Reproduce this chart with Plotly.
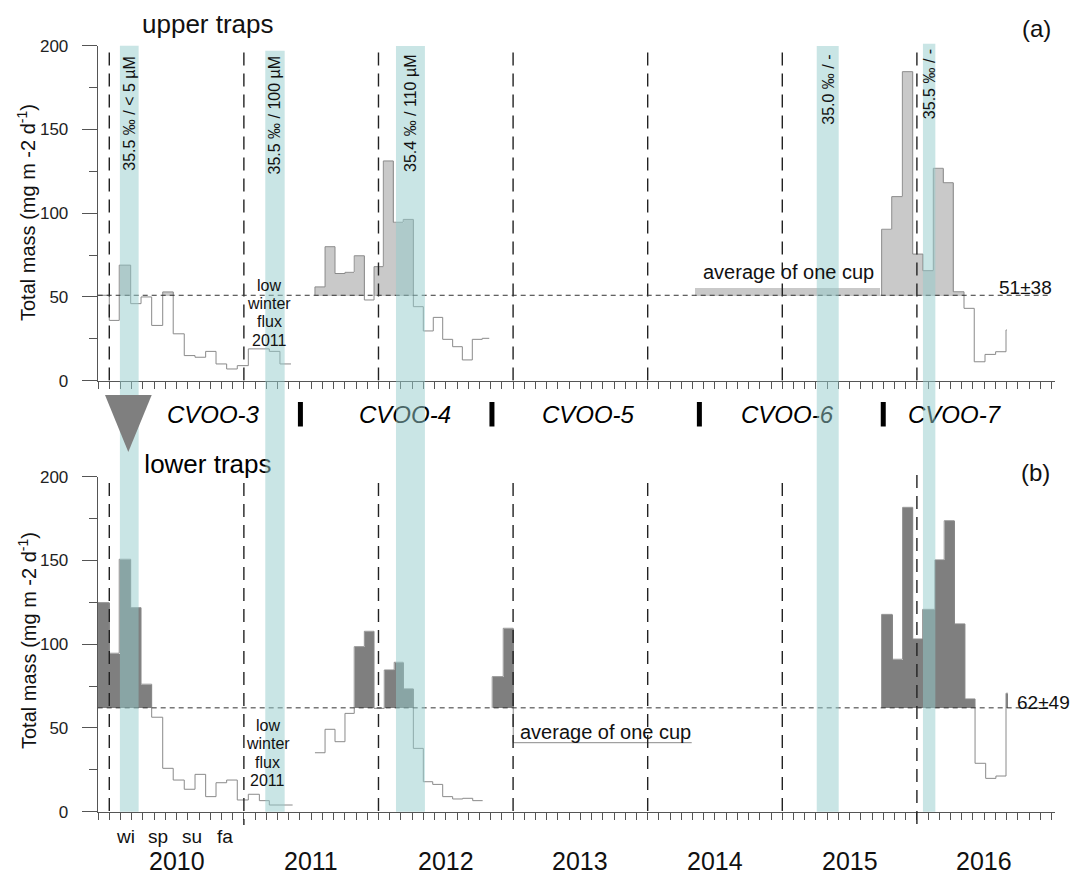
import numpy as np
import plotly.graph_objects as go

W, H = 1072, 877
FONT = "Liberation Sans, Arial, sans-serif"

# ------------------------------------------------------------------ data
years = [2010, 2011, 2012, 2013, 2014, 2015, 2016]
season_labels = ["wi", "sp", "su", "fa"]
season_pos = [2010.117, 2010.362, 2010.618, 2010.856]

upper_mean = 51
lower_mean = 62
upper_mean_label = "51±38"
lower_mean_label = "62±49"

# upper traps: cup edges (decimal year) and total mass flux (mg m-2 d-1)
up3_edges = [2009.914, 2010.000, 2010.074, 2010.159, 2010.236, 2010.315, 2010.397,
             2010.475, 2010.557, 2010.637, 2010.716, 2010.793, 2010.872, 2010.951,
             2011.033, 2011.120, 2011.189, 2011.268, 2011.350]
up3_vals = [51, 36, 69, 46, 50, 33, 53, 28, 15, 14, 17.5, 10, 7, 9, 19, 19, 17.5, 10]

up4_edges = [2011.528, 2011.603, 2011.677, 2011.751, 2011.820, 2011.895, 2011.967,
             2012.036, 2012.110, 2012.184, 2012.259, 2012.333, 2012.407, 2012.477,
             2012.551, 2012.623, 2012.697, 2012.771, 2012.823]
up4_vals = [56, 80, 64, 64.7, 74.6, 48.2, 68.1, 131.2, 94.6, 96.3, 44.2, 29.7, 37.8,
            24.7, 20.3, 12.4, 24.7, 25.3]

up6_avg_edges = [2014.346, 2015.721]
up6_avg_vals = [55.8]

up7_edges = [2015.738, 2015.813, 2015.892, 2015.969, 2016.045, 2016.122, 2016.196,
             2016.270, 2016.350, 2016.426, 2016.506, 2016.585, 2016.662, 2016.668]
up7_vals = [90.4, 109.9, 184.5, 75.6, 65.7, 126.8, 118.2, 53.1, 43.2, 11.3, 15.7, 17.3, 30.3]

# lower traps
lo3_edges = [2009.914, 2010.000, 2010.074, 2010.159, 2010.236, 2010.315, 2010.397,
             2010.475, 2010.557, 2010.637, 2010.716, 2010.793, 2010.872, 2010.951,
             2011.033, 2011.115, 2011.189, 2011.268, 2011.362]
lo3_vals = [124.8, 94.6, 150.7, 121.8, 76.1, 56.4, 25.9, 18.9, 13.4, 22.3, 9, 17.3,
            18.9, 7, 10.4, 6.6, 4, 4]

lo4_edges = [2011.528, 2011.603, 2011.677, 2011.751, 2011.820, 2011.895, 2011.967,
             2012.043, 2012.117, 2012.184, 2012.259, 2012.333, 2012.403, 2012.477,
             2012.551, 2012.626, 2012.700, 2012.774]
lo4_vals = [35.2, 49.2, 41.8, 58.7, 98.5, 107.7, 61.7, 84.6, 89.2, 73.3, 37.8, 17.9,
            16.3, 9, 7.6, 8, 6.6]

lo5_edges = [2012.845, 2012.927, 2013.001, 2014.327]
lo5_vals = [80.6, 109.5, 41.2]

lo7_edges = [2015.738, 2015.817, 2015.894, 2015.969, 2016.043, 2016.134, 2016.203,
             2016.278, 2016.357, 2016.432, 2016.511, 2016.587, 2016.662, 2016.677]
lo7_vals = [117.8, 91, 181.7, 103.1, 120.8, 150.3, 173.7, 112.1, 67.3, 28.9, 19.9,
            21.3, 70.7]

# events (teal bands) : start / end (decimal year) and labels
band_start = [2010.079, 2011.159, 2012.130, 2015.256, 2016.045]
band_end = [2010.218, 2011.303, 2012.345, 2015.419, 2016.137]
band_labels = ["35.5 ‰ / < 5 µM", "35.5 ‰ / 100 µM", "35.4 ‰ / 110 µM",
               "35.0 ‰ / -", "35.5 ‰ / -"]

# deployments
cvoo_names = ["CVOO-3", "CVOO-4", "CVOO-5", "CVOO-6", "CVOO-7"]
cvoo_pos = [2010.77, 2012.197, 2013.556, 2015.035, 2016.276]
cvoo_breaks = [2011.420, 2012.843, 2014.384, 2015.750]

winter_text = ["low", "winter", "flux", "2011"]
winter_pos = 2011.19

# ------------------------------------------------------------------ layout helpers
T0, T1 = 2009.914, 2017.026
XD = [97.7 / W, 1055 / W]
UP_DOM = [1 - 380.7 / H, 1 - 45.7 / H]
LO_DOM = [1 - 811.7 / H, 1 - 476.7 / H]


def py(p):
    return 1 - p / H


def px(p):
    return p / W


MID_DOM = [py(490), py(382)]


def mid_val(p):  # pixel -> helper axis value in the gap between panels
    return (py(p) - MID_DOM[0]) / (MID_DOM[1] - MID_DOM[0])


fig = go.Figure()

LINE_COL = "#8a8a8a"


def add_series(edges, vals, mean, xa, ya, fill, line=True):
    e = np.asarray(edges, float)
    v = np.asarray(vals, float)
    centers = (e[:-1] + e[1:]) / 2
    widths = np.diff(e)
    h = np.clip(v - mean, 0, None)
    fig.add_trace(go.Bar(x=centers, y=h, base=mean, width=widths,
                         marker=dict(color=fill, line=dict(width=0)),
                         xaxis=xa, yaxis=ya, hoverinfo="skip", showlegend=False))
    if line:
        xs = list(e)
        ys = list(v) + [v[-1]]
        if v[0] > mean:
            xs = [e[0]] + xs
            ys = [mean] + ys
        fig.add_trace(go.Scatter(x=xs, y=ys, mode="lines",
                                 line=dict(shape="hv", color=LINE_COL, width=1),
                                 xaxis=xa, yaxis=ya, hoverinfo="skip", showlegend=False))


UP_FILL = "#c9c9c9"
LO_FILL = "#7f7f7f"

add_series(up3_edges, up3_vals, upper_mean, "x", "y", UP_FILL)
add_series(up4_edges, up4_vals, upper_mean, "x", "y", UP_FILL)
add_series(up6_avg_edges, up6_avg_vals, upper_mean, "x", "y", UP_FILL, line=False)
add_series(up7_edges, up7_vals, upper_mean, "x", "y", UP_FILL)

add_series(lo3_edges, lo3_vals, lower_mean, "x2", "y2", LO_FILL)
add_series(lo4_edges, lo4_vals, lower_mean, "x2", "y2", LO_FILL)
add_series(lo5_edges, lo5_vals, lower_mean, "x2", "y2", LO_FILL)
add_series(lo7_edges, lo7_vals, lower_mean, "x2", "y2", LO_FILL)

# text lying under the translucent bands (drawn as traces on a hidden helper axis)
fig.add_trace(go.Scatter(x=cvoo_pos, y=[mid_val(416.6)] * len(cvoo_pos), mode="text",
                         text=cvoo_names, textposition="middle center",
                         textfont=dict(family=FONT, size=24, color="#000", style="italic"),
                         xaxis="x", yaxis="y3", cliponaxis=False, hoverinfo="skip",
                         showlegend=False))
fig.add_trace(go.Scatter(x=[2010.733], y=[mid_val(466)], mode="text",
                         text=["lower traps"], textposition="middle center",
                         textfont=dict(family=FONT, size=26, color="#000"),
                         xaxis="x", yaxis="y3", cliponaxis=False, hoverinfo="skip",
                         showlegend=False))

# ------------------------------------------------------------------ shapes
shapes = []
DASH_YR = dict(color="#222", width=1.4, dash="13px,8px")
for yr in years:
    shapes.append(dict(type="line", xref="x", yref="y", x0=yr, x1=yr, y0=196, y1=0,
                       line=DASH_YR, layer="above"))
    top = 475 if yr == 2016 else 483
    bot = 825 if yr in (2011, 2016) else 812
    shapes.append(dict(type="line", xref="x", yref="paper", x0=yr, x1=yr,
                       y0=py(top), y1=py(bot), line=DASH_YR, layer="above"))

MEAN_DASH = dict(color="#333", width=1, dash="5px,4px")
shapes.append(dict(type="line", xref="x", yref="y", x0=T0, x1=2017.0,
                   y0=upper_mean, y1=upper_mean, line=MEAN_DASH, layer="above"))
shapes.append(dict(type="line", xref="x2", yref="y2", x0=T0, x1=2017.0,
                   y0=lower_mean, y1=lower_mean, line=MEAN_DASH, layer="above"))

band_top_px = [45.7, 50.7, 46, 46, 43.7]
for s, e, tp in zip(band_start, band_end, band_top_px):
    shapes.append(dict(type="rect", xref="x", yref="paper", x0=s, x1=e,
                       y0=py(811.7), y1=py(tp), fillcolor="rgba(147,203,203,0.5)",
                       line=dict(width=0), layer="above"))

# triangle marker
shapes.append(dict(type="path", xref="paper", yref="paper",
                   path=f"M {px(105)},{py(395)} L {px(151.7)},{py(395)} L {px(128.3)},{py(452)} Z",
                   fillcolor="#7f7f7f", line=dict(width=0), layer="above"))

for b in cvoo_breaks:
    shapes.append(dict(type="line", xref="x", yref="paper", x0=b, x1=b,
                       y0=py(402), y1=py(426.5), line=dict(color="#000", width=5),
                       layer="above"))

# ------------------------------------------------------------------ annotations
ann = []


def A(text, x, y, xref="paper", yref="paper", size=16, xanchor="center",
      yanchor="middle", angle=0, style="normal", color="#111"):
    ann.append(dict(text=text, x=x, y=y, xref=xref, yref=yref, showarrow=False,
                    xanchor=xanchor, yanchor=yanchor, textangle=angle, borderpad=0,
                    font=dict(family=FONT, size=size, color=color, style=style)))


A("upper traps", px(207.5), py(24), size=26)
A("(a)", px(1052), py(28.5), size=24, xanchor="right")
A("(b)", px(1051), py(472), size=24, xanchor="right")

ytitle = "Total mass (mg m -2 d<sup>-1</sup>)"
A(ytitle, px(27), py(213), size=20, angle=-90)
A(ytitle, px(27), py(641), size=20, angle=-90)

label_top_px = [55, 54, 54, 54, 48]
for s, e, t, tp in zip(band_start, band_end, band_labels, label_top_px):
    A(t, (s + e) / 2, py(tp), xref="x", size=16, angle=-90, yanchor="top")

for i, t in enumerate(winter_text):
    A(t, winter_pos, py(285 + 18.4 * i), xref="x", size=16)
    A(t, winter_pos - 0.012, py(725 + 18.6 * i), xref="x", size=16)

A("average of one cup", px(702), py(272), size=20, xanchor="left")
A("average of one cup", px(519), py(732), size=20, xanchor="left")
A(upper_mean_label, px(1053), py(287.5), size=19, xanchor="right")
A(lower_mean_label, px(1071), py(702), size=19, xanchor="right")

for yr in years:
    A(str(yr), yr + 0.5, py(861), xref="x", size=25)
for s, p in zip(season_labels, season_pos):
    A(s, p, py(836.5), xref="x", size=19)

# ------------------------------------------------------------------ axes
month_ticks = 2009 + 11 / 12 + np.arange(0, 86) / 12
AX = "#555"
xcommon = dict(domain=XD, range=[T0, T1], tickmode="array", tickvals=month_ticks,
               ticks="outside", ticklen=7, tickwidth=1, tickcolor=AX,
               showticklabels=False, showline=True, linecolor=AX, linewidth=1,
               showgrid=False, zeroline=False, automargin=False)
ycommon = dict(range=[0, 200], tickmode="array", tickvals=[0, 50, 100, 150, 200],
               ticks="outside", ticklen=15, tickwidth=1, tickcolor=AX,
               minor=dict(tickmode="array", tickvals=[25, 75, 125, 175],
                          ticks="outside", ticklen=8, tickcolor=AX, tickwidth=1),
               showline=True, linecolor=AX, linewidth=1, showgrid=False,
               zeroline=False, tickfont=dict(family=FONT, size=17, color="#222"),
               ticklabelstandoff=10, automargin=False)

fig.update_layout(
    width=W, height=H, margin=dict(l=0, r=0, t=0, b=0, pad=0), autosize=False,
    paper_bgcolor="white", plot_bgcolor="rgba(0,0,0,0)",
    barmode="overlay", bargap=0, showlegend=False,
    xaxis=dict(anchor="y", **xcommon),
    xaxis2=dict(anchor="y2", matches="x", **xcommon),
    yaxis=dict(anchor="x", domain=UP_DOM, **ycommon),
    yaxis2=dict(anchor="x2", domain=LO_DOM, **ycommon),
    yaxis3=dict(domain=MID_DOM, range=[0, 1], visible=False, anchor="free",
                position=0, automargin=False, showgrid=False, zeroline=False),
    shapes=shapes, annotations=ann,
    font=dict(family=FONT),
)

fig.write_html("out.html", config={"displayModeBar": False})
